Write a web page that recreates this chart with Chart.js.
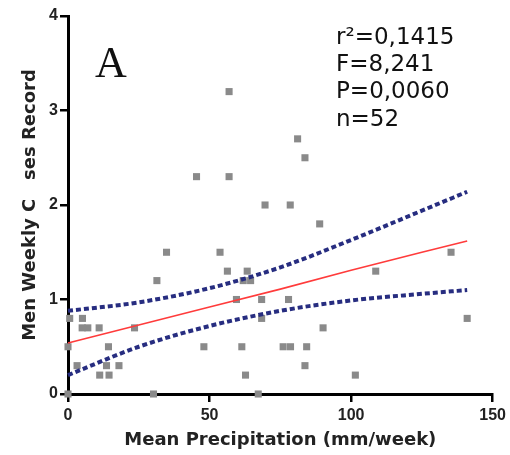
<!DOCTYPE html>
<html>
<head>
<meta charset="utf-8">
<script src="https://cdn.jsdelivr.net/npm/chart.js@4.4.1/dist/chart.umd.min.js"></script>
<style>
html,body{margin:0;padding:0;background:#fff;}
#wrap{width:510px;height:455px;position:relative;}
</style>
</head>
<body>
<div id="wrap"><canvas id="c" width="510" height="455"></canvas></div>
<script>
// Scatter data (Mean precipitation mm/week vs men weekly cases)
const precipX = [45.4,34.8,53.7,31.4,0.6,5.1,5.0,7.0,11.0,23.5,0,14.3,48,3.2,13.6,18,11.2,14.5,0,30.2,56.9,81.1,83.7,56.9,69.6,78.5,88.9,56.3,63.3,61.9,64.5,59.5,68.4,77.9,68.4,90.1,61.4,76,78.6,84.3,62.7,83.7,101.5,67.2,135.3,108.7,141];
const casesY  = [2.3,1.5,1.5,1.2,0.8,0.8,0.7,0.7,0.7,0.7,0.5,0.5,0.5,0.3,0.3,0.3,0.2,0.2,0,0,3.2,2.7,2.5,2.3,2.0,2.0,1.8,1.3,1.3,1.2,1.2,1.0,1.0,1.0,0.8,0.7,0.5,0.5,0.5,0.5,0.2,0.3,0.2,0,1.5,1.3,0.8];

// Regression line and 95% confidence band
const fitX   = [0, 25, 50, 75, 100, 125, 141];
const fitY   = [0.54, 0.73, 0.92, 1.11, 1.31, 1.50, 1.62];
const upperY = [0.88, 0.97, 1.12, 1.34, 1.63, 1.94, 2.14];
const lowerY = [0.20, 0.50, 0.72, 0.88, 0.99, 1.06, 1.10];

const xTicks = [0, 50, 100, 150];
const yTicks = [0, 1, 2, 3, 4];
const statsText = ['r\u00B2=0,1415', 'F=8,241', 'P=0,0060', 'n=52'];
const panelLabel = 'A';
const xTitle = 'Mean Precipitation (mm/week)';
const yTitle = 'Men Weekly C   ses Record';

const toPts = (xs, ys) => xs.map((x, i) => ({x: x, y: ys[i]}));

const textPlugin = {
  id: 'texts',
  afterDraw(chart) {
    const ctx = chart.ctx;
    const a = chart.chartArea;
    ctx.save();
    ctx.fillStyle = '#111';
    ctx.textBaseline = 'alphabetic';
    ctx.textAlign = 'left';
    ctx.font = '44px "Liberation Serif"';
    ctx.fillText(panelLabel, a.left + 27, a.top + 61);
    ctx.font = '23px "DejaVu Sans"';
    statsText.forEach((t, i) => {
      ctx.fillText(t, a.left + 268, a.top + 28 + i * 27.2);
    });
    ctx.restore();
  }
};

const tickFont = {family: '"Liberation Sans"', size: 16, weight: 'bold'};
const titleFont = {family: '"DejaVu Sans"', size: 18, weight: 'bold'};

new Chart(document.getElementById('c'), {
  type: 'scatter',
  data: {
    datasets: [
      {
        type: 'line', data: toPts(fitX, fitY), borderColor: '#ff3b3b', borderWidth: 1.6,
        pointRadius: 0, fill: false, tension: 0, order: 0
      },
      {
        type: 'line', data: toPts(fitX, upperY), borderColor: '#272d80', borderWidth: 4,
        borderDash: [5, 3], pointRadius: 0, fill: false, cubicInterpolationMode: 'monotone', order: 0
      },
      {
        type: 'line', data: toPts(fitX, lowerY), borderColor: '#272d80', borderWidth: 4,
        borderDash: [5, 3], pointRadius: 0, fill: false, cubicInterpolationMode: 'monotone', order: 0
      },
      {
        type: 'scatter', data: toPts(precipX, casesY), pointStyle: 'rect', pointRadius: 5,
        pointBackgroundColor: '#8a8a8a', pointBorderWidth: 0, pointBorderColor: '#8a8a8a', order: 1
      }
    ]
  },
  options: {
    responsive: false,
    animation: false,
    clip: false,
    layout: {padding: {left: 0, right: 17, top: 16, bottom: 0}},
    plugins: {legend: {display: false}, tooltip: {enabled: false}},
    scales: {
      x: {
        type: 'linear', min: 0, max: 150,
        afterBuildTicks: s => { s.ticks = xTicks.map(v => ({value: v})); },
        afterFit: s => { s.height = 61; },
        grid: {display: true, drawOnChartArea: false, drawTicks: true, tickLength: 8, lineWidth: 2.5, color: '#000'},
        border: {display: true, color: '#000', width: 3},
        ticks: {font: tickFont, color: '#222', padding: 4, maxRotation: 0},
        title: {display: true, text: xTitle, font: titleFont, color: '#222', padding: {top: 0, bottom: 4}}
      },
      y: {
        type: 'linear', min: 0, max: 4,
        afterBuildTicks: s => { s.ticks = yTicks.map(v => ({value: v})); },
        afterFit: s => { s.width = 68; },
        grid: {display: true, drawOnChartArea: false, drawTicks: true, tickLength: 8, lineWidth: 2.5, color: '#000'},
        border: {display: true, color: '#000', width: 3},
        ticks: {font: tickFont, color: '#222', padding: 2},
        title: {display: true, text: yTitle, font: titleFont, color: '#222', padding: {top: 20, bottom: 0}}
      }
    }
  },
  plugins: [textPlugin]
});
</script>
</body>
</html>
